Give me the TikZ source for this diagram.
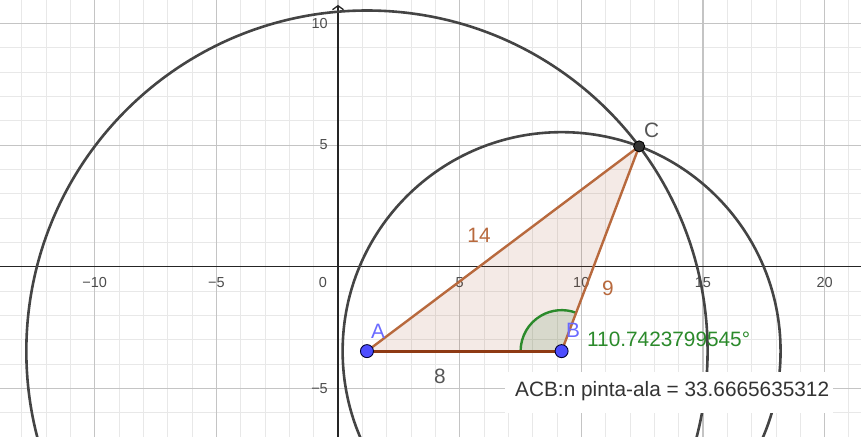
\documentclass[tikz,border=0pt]{standalone}
\usepackage{fontspec}
\setmainfont{Liberation Sans}
\usetikzlibrary{arrows.meta}
\definecolor{minorg}{HTML}{E8E8E8}
\definecolor{majorg}{HTML}{C4C4C4}
\definecolor{axisc}{HTML}{252525}
\definecolor{tickc}{HTML}{4C4C4C}
\definecolor{circc}{HTML}{444444}
\definecolor{trifill}{HTML}{A0471C}
\definecolor{edgel}{HTML}{B8693D}
\definecolor{edged}{HTML}{8E3A14}
\definecolor{angf}{HTML}{1E6E1E}
\definecolor{angc}{HTML}{2B8A2B}
\definecolor{ptblue}{HTML}{4D4DFF}
\definecolor{lblblue}{HTML}{6A6AFF}
\definecolor{lblgray}{HTML}{555555}
\tikzset{
  minorline/.style={draw=minorg, line width=0.9pt},
  majorline/.style={draw=majorg, line width=1.1pt},
  axisline/.style={draw=axisc, line width=1.3pt},
  ticklbl/.style={text=tickc, inner sep=0pt, font=\fontsize{14.5}{16}\selectfont},
  circline/.style={draw=circc, line width=2.6pt},
  edgelight/.style={draw=edgel, line width=2.4pt},
  edgedark/.style={draw=edged, line width=3pt},
  ptnode/.style={circle, fill=ptblue, draw=black!80!blue, line width=0.9pt, minimum size=13pt, inner sep=0pt},
  ptcnode/.style={circle, fill=black!80, draw=black, line width=0.9pt, minimum size=11pt, inner sep=0pt},
  biglbl/.style={inner sep=0pt, font=\fontsize{20.8}{24}\selectfont},
}
\begin{document}
\begin{tikzpicture}[x=1pt, y=-1pt]
\useasboundingbox (0,0) rectangle (861,436);
\fill[white] (0,0) rectangle (861,436);
\begin{scope}
\clip (0,0) rectangle (861,436);
\begin{scope}[shift={(338pt,-266.7pt)}, x=24.33pt, y=24.33pt]
  % grid
  \draw[minorline] (-14,-7) grid[step=1] (22,11);
  \draw[majorline] (-15,-10) grid[step=5] (25,15);
  % axes
  \coordinate (xl) at (-14,0);
  \coordinate (xr) at (21.6,0);
  \coordinate (yb) at (0,-7);
  \coordinate (yt) at (0,10.76);
  \draw[axisline] (xl) -- (xr);
  \draw[axisline, -{Straight Barb[length=4pt,width=11pt,line width=1.3pt]}] (yb) -- (yt);
  % tick labels
  \foreach \v/\t in {-10/−10,-5/−5,5/5,10/10,15/15,20/20}
    \node[ticklbl] (tx\v) at ([yshift=-16pt]\v,0) {\t};
  \foreach \v/\t in {10/10,5/5,-5/−5}
    \node[ticklbl, anchor=east] (ty\v) at ([xshift=-10pt]0,\v) {\t};
  \node[ticklbl] (t0) at (-0.62,-0.67) {0};
  % geometry
  \coordinate (A) at (1.19,-3.47);
  \coordinate (B) at (9.19,-3.47);
  \coordinate (C) at (12.3775,4.9466);
  \draw[circline] (A) circle[radius=14];
  \draw[circline] (B) circle[radius=9];
  \fill[trifill, fill opacity=0.11] (A) -- (B) -- (C) -- cycle;
  \fill[angf, fill opacity=0.13] (B) -- ++(-1.685,0) arc[start angle=180, end angle=69.26, radius=1.685] -- cycle;
  \draw[angc, line width=2.4pt] (B) ++(-1.685,0) arc[start angle=180, end angle=69.26, radius=1.685];
  \draw[edgelight] (A) -- (C);
  \draw[edgelight] (B) -- (C);
  \draw[edgedark] (A) -- (B);
  \node[ptnode] (pA) at (A) {};
  \node[ptnode] (pB) at (B) {};
  \node[ptcnode] (pC) at (C) {};
\end{scope}
\end{scope}
% labels (pixel frame)
\node[biglbl, text=lblblue] (lA) at (378,331) {A};
\node[biglbl, text=lblblue] (lB) at (573,330) {B};
\node[biglbl, text=lblgray] (lC) at (651.5,130) {C};
\node[biglbl, text=edgel] (l14) at (479,235) {14};
\node[biglbl, text=edgel] (l9) at (608,288) {9};
\node[biglbl, text=lblgray] (l8) at (440,376) {8};
\node[biglbl, text=angc, anchor=west] (lang) at (587,339.5) {110.7423799545°};
\fill[white] (505,372) rectangle (833,413);
\node[biglbl, text=black!80, anchor=west] (larea) at (515,391) {ACB:n pinta-ala = 33.6665635312};
\end{tikzpicture}
\end{document}
